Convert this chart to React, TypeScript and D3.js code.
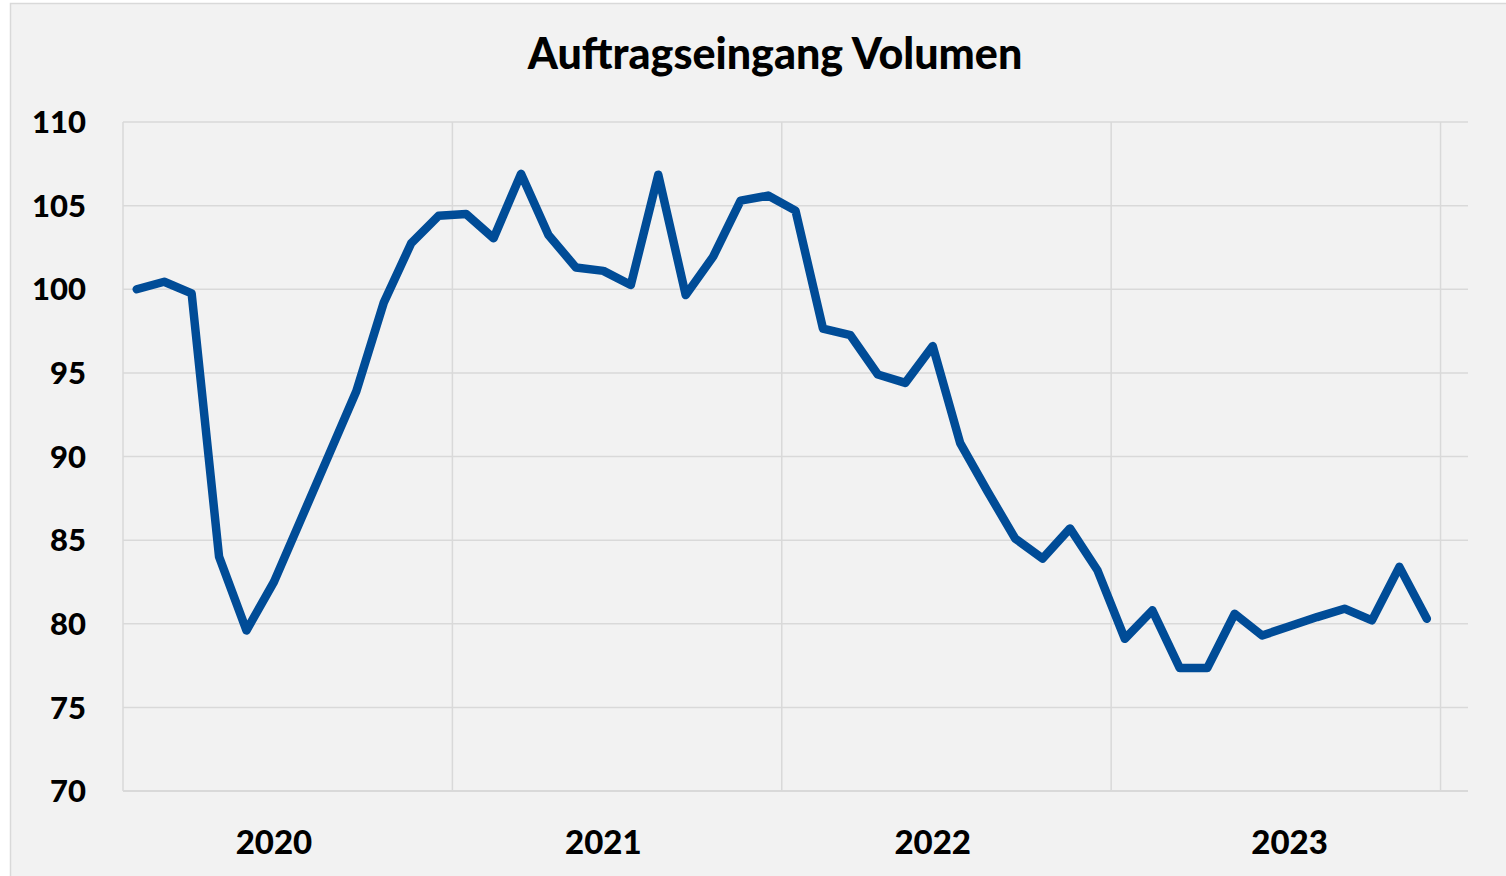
import * as d3 from 'd3'
import React from 'react'

// Auftragseingang, monthly index Jan 2020 – Dec 2023
const values = [
  100.0, 100.45, 99.75, 84.0, 79.6, 82.5, 86.3, 90.1, 93.9, 99.2, 102.75, 104.4,
  104.5, 103.05, 106.9, 103.25, 101.3, 101.1, 100.25, 106.85, 99.65, 101.95, 105.3, 105.6,
  104.7, 97.65, 97.25, 94.9, 94.4, 96.6, 90.8, 87.9, 85.1, 83.9, 85.7, 83.2,
  79.1, 80.8, 77.35, 77.35, 80.6, 79.3, 79.85, 80.4, 80.9, 80.2, 83.4, 80.3,
]
const years = ['2020', '2021', '2022', '2023']
const yearLabelAt = [5, 17, 29, 42]
const yTicks = [70, 75, 80, 85, 90, 95, 100, 105, 110]
const slots = 49

const W = 1506, H = 876
const m = { left: 123, right: 1468, top: 122, bottom: 791 }
const font = 'Lato, "Open Sans", sans-serif'
const grid = '#d9d9d9'

export default function App() {
  const
    x = d3.scaleLinear().domain([0, slots]).range([m.left, m.right]),
    y = d3.scaleLinear().domain([70, 110]).range([m.bottom, m.top]),
    line = d3.line<number>()
      .x((_, i) => x(i + 0.5))
      .y(d => y(d))

  return (
    <svg width={W} height={H} style={{ position: 'absolute', left: 0, top: 0 }}>
      <rect x={0} y={0} width={W} height={H} fill='#fff' />
      <rect x={10.5} y={3.5} width={W + 20} height={H + 20} fill='#f2f2f2' stroke={grid} strokeWidth={1.5} />
      <text x={775} y={69} textAnchor='middle' fontFamily={font} fontWeight={900} fontSize={43} fill='#000'>
        Auftragseingang Volumen
      </text>
      {yTicks.map(t => (
        <line key={'h' + t} x1={m.left} x2={m.right} y1={y(t)} y2={y(t)} stroke={grid} strokeWidth={t === 70 ? 2 : 1.5} />
      ))}
      {[0, 12, 24, 36, 48].map(k => (
        <line key={'v' + k} x1={x(k)} x2={x(k)} y1={m.top} y2={m.bottom} stroke={grid} strokeWidth={1.5} />
      ))}
      {yTicks.map(t => (
        <text key={'t' + t} x={86} y={y(t)} dy='0.36em' textAnchor='end' fontFamily={font} fontWeight={900} fontSize={31} fill='#000'>
          {t}
        </text>
      ))}
      {years.map((yr, i) => (
        <text key={yr} x={x(yearLabelAt[i] + 0.5)} y={854} textAnchor='middle' fontFamily={font} fontWeight={900} fontSize={33} fill='#000'>
          {yr}
        </text>
      ))}
      <path d={line(values) as string} fill='none' stroke='#004c97' strokeWidth={8.5} strokeLinejoin='round' strokeLinecap='round' />
    </svg>
  )
}
